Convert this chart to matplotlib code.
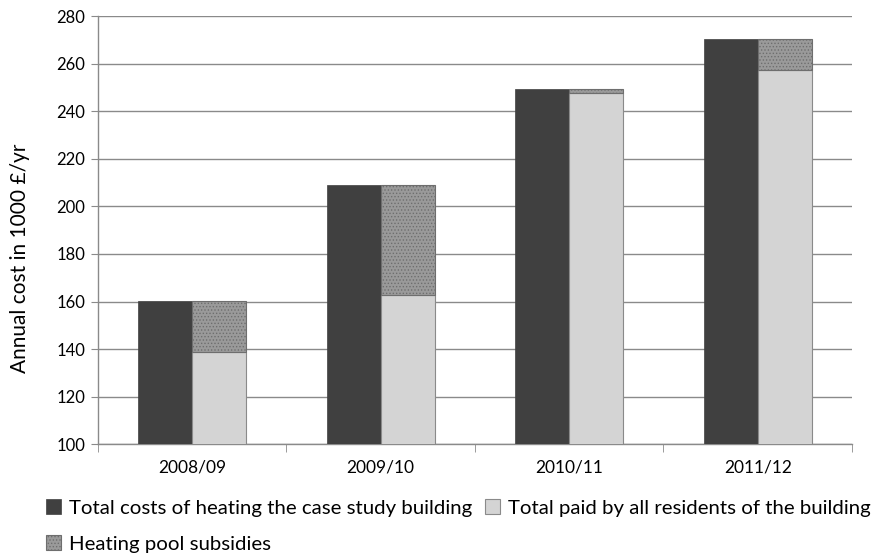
import matplotlib.pyplot as plt
import numpy as np

plt.rcParams['font.family'] = ['Lato', 'DejaVu Sans']
plt.rcParams['hatch.linewidth'] = 0.6

years = ['2008/09', '2009/10', '2010/11', '2011/12']
total_costs = [160.3, 209.2, 249.3, 270.2]
paid_by_residents = [138.7, 162.8, 247.6, 257.3]
subsidies = [t - p for t, p in zip(total_costs, paid_by_residents)]

x = np.arange(len(years))
w = 0.286

fig = plt.figure(figsize=(8.82, 5.58), dpi=100)
ax = fig.add_axes([0.111, 0.204, 0.855, 0.767])

b1 = ax.bar(x - w / 2, total_costs, w, color='#404040', edgecolor='#404040', linewidth=0.5, zorder=3)
b2 = ax.bar(x + w / 2, paid_by_residents, w, color='#d4d4d4', edgecolor='#8a8a8a', linewidth=0.8, zorder=3)
b3 = ax.bar(x + w / 2, subsidies, w, bottom=paid_by_residents, color='#9a9a9a',
            edgecolor='#6e6e6e', hatch='.....', linewidth=0.8, zorder=3)

ax.set_ylim(100, 280)
ax.set_yticks(np.arange(100, 281, 20))
ax.set_xlim(-0.5, len(years) - 0.5)
ax.set_xticks(x)
ax.set_xticklabels(years, fontsize=12.5)
ax.set_xticks(np.arange(-0.5, len(years), 1), minor=True)
ax.tick_params(axis='x', which='major', length=0, pad=11)
ax.tick_params(axis='x', which='minor', length=6, color='#8a8a8a')
ax.tick_params(axis='y', length=5, color='#8a8a8a', labelsize=12, pad=4)
ax.grid(axis='y', color='#8a8a8a', linewidth=1, zorder=0)

for s in ['top', 'right']:
    ax.spines[s].set_visible(False)
for s in ['left', 'bottom']:
    ax.spines[s].set_color('#8a8a8a')
    ax.spines[s].set_linewidth(1)

ax.set_ylabel('Annual cost in 1000 £/yr', fontsize=15)
ax.yaxis.set_label_coords(-0.09, 0.435)

# reorder so the legend fills row by row
handles = [b1, b3, b2]
labels = ['Total costs of heating the case study building', 'Heating pool subsidies',
          'Total paid by all residents of the building']
fig.legend(handles, labels, ncol=2, loc='upper left', bbox_to_anchor=(0.052, 0.105),
           frameon=False, fontsize=14.7, handlelength=0.75, handleheight=0.75,
           handletextpad=0.4, columnspacing=0.6, labelspacing=0.9, borderaxespad=0,
           borderpad=0)

plt.savefig('out.png')
plt.close()
